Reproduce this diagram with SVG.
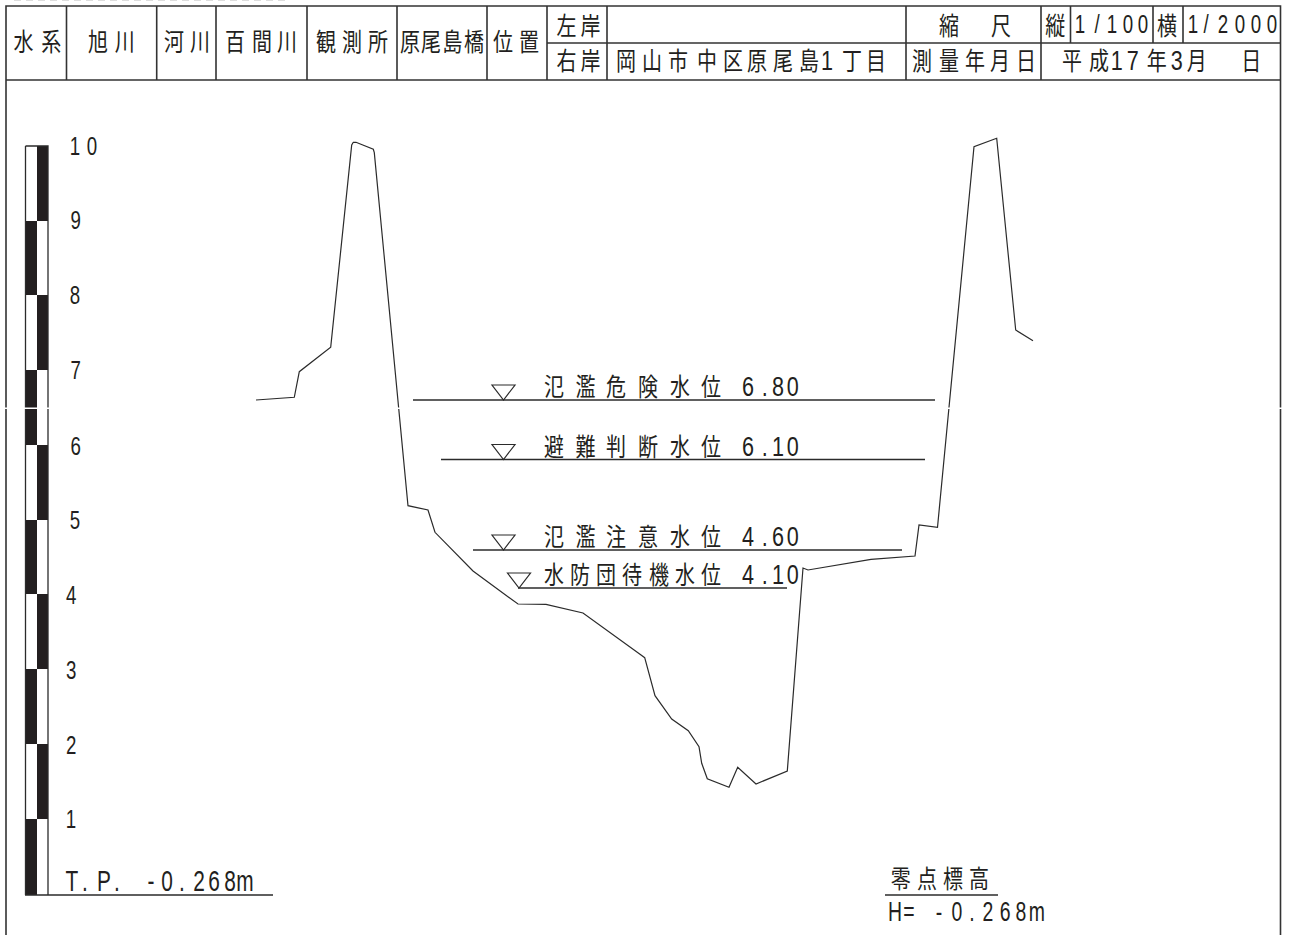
<svg xmlns="http://www.w3.org/2000/svg" width="1292" height="935" viewBox="0 0 1292 935">
<style>
.l{fill:none;stroke:#2b2b2b;stroke-width:1.3}
.t{fill:none;stroke:#333;stroke-width:1.6}
.p{fill:none;stroke:#2b2b2b;stroke-width:1.2;stroke-linejoin:miter}
.k{fill:#231f20}
text{font-family:"Liberation Sans","Noto Sans CJK JP",sans-serif;font-size:25px;text-anchor:middle;fill:#231f20}
.n{font-size:27px}
.r{font-size:26px}
.b{font-size:29px}
</style>
<defs>
<path id="tri" d="M-11.5 0H11.5L0 15Z" fill="none" stroke="#2b2b2b" stroke-width="1.2"/>
</defs>
<rect width="1292" height="935" fill="#fff"/>
<path d="M14 .5H285" stroke="#ddd" stroke-width="1" stroke-dasharray="7 5"/>
<g id="table">
<path class="t" d="M6 935V6H1280.5V935M6 80H1280.5M547 43H1280.5M66.5 6V80M156.7 6V80M216 6V80M307 6V80M397 6V80M487 6V80M547 6V80M607 6V80M906 6V80M1041 6V80M1070.5 6V43M1153 6V43M1183 6V43"/>
<g transform="scale(.8 1)">
<text x="29.4 64" y="51">水系</text>
<text x="122.5 156" y="51">旭川</text>
<text x="217.5 250" y="51">河川</text>
<text x="293.8 327.5 358.8" y="51">百間川</text>
<text x="407.5 440 472.5" y="51">観測所</text>
<text x="512.5 538.8 565.6 592.5" y="51">原尾島橋</text>
<text x="628.8 661.3" y="51">位置</text>
<text x="708.1 738.1" y="35">左岸</text>
<text x="708.1 738.1" y="70">右岸</text>
<text x="782.5 815 847.5 883.8 916.3 946.3 978.8 1011.3 1033.8 1065 1095" y="70">岡山市中区原尾島<tspan class="n">1</tspan>丁目</text>
<text x="1186.3 1220 1251.3" y="35">縮 尺</text>
<text x="1152.5 1186.3 1218.8 1250 1282.5" y="70">測量年月日</text>
<text x="1319" y="35">縦</text>
<text x="1458.8" y="35">横</text>
<text x="1340 1373.8 1396 1416 1446 1471 1496 1530 1564" y="70">平成<tspan class="n">17</tspan>年<tspan class="n">3</tspan>月 日</text>
</g>
<g transform="scale(.72 1)">
<text class="r" x="1500 1523.6 1544.4 1566.7 1587.5" y="33">1/100</text>
<text class="r" x="1657 1675 1698.6 1722 1744.4 1766.7" y="33">1/2000</text>
</g>
</g>
<g id="scale">
<path class="k" d="M37 146H48V221H37ZM25 221H37V295H25ZM37 295H48V370H37ZM25 370H37V445H25ZM37 445H48V520H37ZM25 520H37V594H25ZM37 594H48V669H37ZM25 669H37V744H25ZM37 744H48V819H37ZM25 819H37V895H25Z"/>
<path class="l" d="M25.5 146H48V895M25.5 146V895M25 895H273"/>
<g transform="scale(.72 1)">
<text class="r" x="104 127.8" y="155">10</text>
<text class="r" x="105" y="229">9</text>
<text class="r" x="104" y="304">8</text>
<text class="r" x="105" y="379">7</text>
<text class="r" x="105" y="455">6</text>
<text class="r" x="104" y="529">5</text>
<text class="r" x="99" y="604">4</text>
<text class="r" x="99" y="679">3</text>
<text class="r" x="99" y="754">2</text>
<text class="r" x="98.6" y="828">1</text>
<text class="b" x="100 118 144.4 162.5 186 209.7 232 252.8 276.4 297.2 319.4 340.3" y="891">T.P. -0.268m</text>
</g>
</g>
<g id="profile">
<path class="p" d="M256 400L294.3 397.3L299.3 371.7L330.7 347.3L351.7 145L353.3 142.3H356L373.3 149.3L374.3 152.7L408 505.7L428 510L435 532.3L473 571L518 604L546 604.3L583 613L640 654.3L644.7 657.7L655 695.7L671.7 719L688.3 730.7L699 746.7L701.7 763.3L707.3 778.7L729 787.3L737.7 767.3L756 784L787.3 771L803 568L808 570L871 559.3L915 556L919 525L937.5 527.3L974 146.7L996.7 138.3L1015.7 330L1033 340.7"/>
</g>
<g id="level-680">
<path class="l" d="M413 400H935"/><use href="#tri" x="503.5" y="385"/>
<g transform="scale(.8 1)"><text x="692.5 731.9 770 810 850 888.8 910 935 956 972.5 991" y="396">氾濫危険水位 <tspan class="n">6.80</tspan></text></g>
</g>
<g id="level-610">
<path class="l" d="M441 459.5H925"/><use href="#tri" x="503.5" y="444.5"/>
<g transform="scale(.8 1)"><text x="692.5 731.9 770 810 850 888.8 910 935 956 972.5 991" y="456">避難判断水位 <tspan class="n">6.10</tspan></text></g>
</g>
<g id="level-460">
<path class="l" d="M473 550H902"/><use href="#tri" x="503.5" y="535"/>
<g transform="scale(.8 1)"><text x="692.5 731.9 770 810 850 888.8 910 935 956 972.5 991" y="546">氾濫注意水位 <tspan class="n">4.60</tspan></text></g>
</g>
<g id="level-410">
<path class="l" d="M518 588H787"/><use href="#tri" x="519" y="573"/>
<g transform="scale(.8 1)"><text x="692.5 725 757.5 790 823.8 856.3 888.8 910 935 956 972.5 991" y="584">水防団待機水位 <tspan class="n">4.10</tspan></text></g>
</g>
<g id="datum">
<path class="l" d="M885 895H998"/>
<g transform="scale(.8 1)">
<text x="1125.9 1158.8 1191.3 1223.8" y="888">零点標高</text>
</g>
<g transform="scale(.72 1)">
<text class="n" x="1243 1262.5 1283 1304 1329 1350 1372 1396 1418 1440" y="921">H= -0.268m</text>
</g>
</g>
<rect x="0" y="407.5" width="1292" height="1.5" fill="#fff"/>
</svg>
